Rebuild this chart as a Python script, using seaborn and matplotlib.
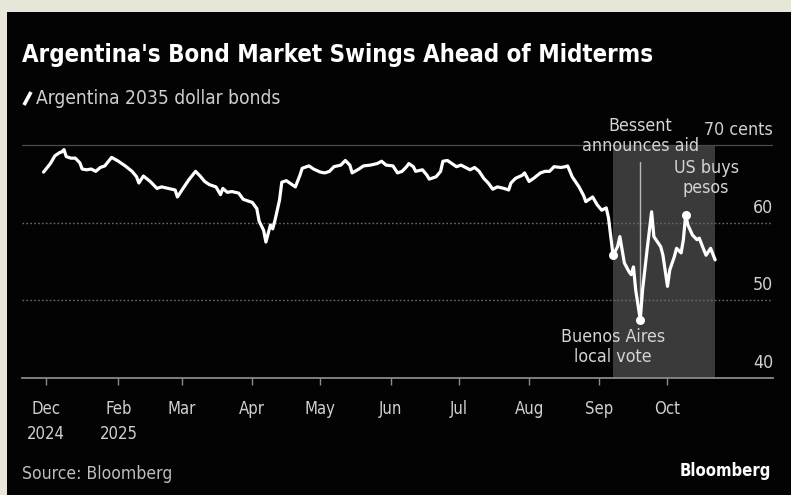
import matplotlib
matplotlib.use("Agg")
import matplotlib.pyplot as plt
import matplotlib.transforms as mtrans
import pandas as pd
import seaborn as sns
from matplotlib import font_manager
from matplotlib.lines import Line2D
from matplotlib.patches import Rectangle

# ---------------- data ----------------
dates = [
    "2024-12-30", "2025-01-02", "2025-01-04", "2025-01-06", "2025-01-07", "2025-01-08",
    "2025-01-09", "2025-01-11", "2025-01-13", "2025-01-15", "2025-01-16", "2025-01-18",
    "2025-01-20", "2025-01-22", "2025-01-24", "2025-01-26", "2025-01-29", "2025-02-01",
    "2025-02-04", "2025-02-07", "2025-02-09", "2025-02-10", "2025-02-12", "2025-02-15",
    "2025-02-18", "2025-02-20", "2025-02-23", "2025-02-26", "2025-02-27", "2025-03-01",
    "2025-03-04", "2025-03-07", "2025-03-09", "2025-03-11", "2025-03-13", "2025-03-16",
    "2025-03-18", "2025-03-19", "2025-03-21", "2025-03-23", "2025-03-26", "2025-03-28",
    "2025-03-30", "2025-04-01", "2025-04-03", "2025-04-04", "2025-04-06", "2025-04-07",
    "2025-04-09", "2025-04-10", "2025-04-11", "2025-04-13", "2025-04-14", "2025-04-16",
    "2025-04-18", "2025-04-20", "2025-04-22", "2025-04-23", "2025-04-26", "2025-04-28",
    "2025-05-01", "2025-05-03", "2025-05-05", "2025-05-07", "2025-05-10", "2025-05-12",
    "2025-05-14", "2025-05-15", "2025-05-18", "2025-05-20", "2025-05-23", "2025-05-26",
    "2025-05-28", "2025-05-30", "2025-06-02", "2025-06-04", "2025-06-06", "2025-06-08",
    "2025-06-09", "2025-06-11", "2025-06-12", "2025-06-15", "2025-06-17", "2025-06-18",
    "2025-06-21", "2025-06-23", "2025-06-24", "2025-06-26", "2025-06-28", "2025-06-30",
    "2025-07-02", "2025-07-04", "2025-07-06", "2025-07-08", "2025-07-10", "2025-07-12",
    "2025-07-14", "2025-07-16", "2025-07-18", "2025-07-21", "2025-07-23", "2025-07-24",
    "2025-07-26", "2025-07-29", "2025-07-30", "2025-08-01", "2025-08-03", "2025-08-06",
    "2025-08-08", "2025-08-10", "2025-08-12", "2025-08-15", "2025-08-17", "2025-08-18",
    "2025-08-20", "2025-08-23", "2025-08-25", "2025-08-26", "2025-08-29", "2025-08-31",
    "2025-09-02", "2025-09-04", "2025-09-05", "2025-09-06", "2025-09-07", "2025-09-09",
    "2025-09-10", "2025-09-11", "2025-09-12", "2025-09-14", "2025-09-15", "2025-09-16",
    "2025-09-17", "2025-09-19", "2025-09-20", "2025-09-22", "2025-09-24", "2025-09-25",
    "2025-09-28", "2025-09-29", "2025-10-01", "2025-10-02", "2025-10-04", "2025-10-05",
    "2025-10-07", "2025-10-08", "2025-10-09", "2025-10-10", "2025-10-12", "2025-10-14",
    "2025-10-15", "2025-10-17", "2025-10-18", "2025-10-20", "2025-10-22",
]
bond_price = [
    66.5, 67.6, 68.6, 69.0, 69.1, 69.4,
    68.5, 68.3, 68.3, 67.7, 66.9, 66.8,
    66.9, 66.6, 67.1, 67.3, 68.4, 67.9,
    67.3, 66.6, 65.9, 65.1, 66.0, 65.3,
    64.4, 64.6, 64.4, 64.2, 63.3, 64.2,
    65.5, 66.6, 66.0, 65.3, 64.9, 64.6,
    63.6, 64.4, 63.9, 64.0, 63.8, 63.0,
    62.8, 62.6, 61.8, 60.2, 59.0, 57.5,
    59.7, 59.2, 60.3, 62.9, 65.2, 65.4,
    65.0, 64.6, 66.1, 67.0, 67.3, 66.9,
    66.5, 66.4, 66.6, 67.2, 67.4, 68.0,
    67.4, 66.4, 66.9, 67.3, 67.4, 67.6,
    67.9, 67.4, 67.3, 66.4, 66.6, 67.2,
    67.6, 67.2, 66.6, 66.8, 66.1, 65.6,
    65.9, 66.6, 67.9, 68.0, 67.6, 67.2,
    67.4, 67.1, 66.8, 67.1, 66.6, 65.7,
    65.1, 64.3, 64.6, 64.4, 64.2, 65.1,
    65.7, 66.1, 66.4, 65.3, 65.7, 66.4,
    66.6, 66.6, 67.2, 67.1, 67.2, 67.3,
    65.9, 64.6, 63.5, 62.7, 63.3, 62.3,
    61.6, 61.9, 60.6, 58.2, 55.8, 56.9,
    58.2, 56.5, 54.8, 53.7, 53.3, 54.3,
    51.3, 47.5, 51.3, 56.5, 61.4, 58.2,
    56.9, 55.8, 51.8, 53.9, 55.6, 56.7,
    56.1, 57.8, 61.0, 59.7, 58.4, 57.8,
    58.0, 56.5, 55.8, 56.7, 55.2,
]

event_dates = ["2025-09-07", "2025-09-19", "2025-10-09"]
event_values = [55.8, 47.5, 61.0]
event_labels = ["Buenos Aires\nlocal vote", "Bessent\nannounces aid", "US buys\npesos"]
event_label_dates = ["2025-09-07", "2025-09-19", "2025-10-18"]
event_label_values = [44.0, 71.2, 65.7]

shade_start, shade_end = "2025-09-07", "2025-10-22"
bessent_line_top = 67.8

tick_dates = ["2024-12-31", "2025-02-01", "2025-03-01", "2025-04-01", "2025-05-01",
              "2025-06-01", "2025-07-01", "2025-08-01", "2025-09-01", "2025-10-01"]
tick_labels = ["Dec\n2024", "Feb\n2025", "Mar", "Apr", "May", "Jun", "Jul", "Aug", "Sep", "Oct"]
y_levels = [40, 50, 60, 70]
y_labels = ["40", "50", "60", "70 cents"]

title = "Argentina's Bond Market Swings Ahead of Midterms"
legend_label = "Argentina 2035 dollar bonds"
source = "Source: Bloomberg"
brand = "Bloomberg"

# ---------------- fonts ----------------
sns.set_style("dark")
entries = font_manager.fontManager.ttflist
has_cond = any(f.name == "DejaVu Sans" and f.stretch == "condensed" for f in entries)
has_narrow = any(f.name == "Liberation Sans Narrow" for f in entries)
if has_cond:
    FK = dict(family="DejaVu Sans", fontstretch="condensed")
elif has_narrow:
    FK = dict(family="Liberation Sans Narrow")
else:
    FK = dict(family="DejaVu Sans")
plt.rcParams["font.family"] = [FK["family"], "DejaVu Sans"]
STRETCH = {k: v for k, v in FK.items() if k != "family"}

W, H = 791, 495
fig = plt.figure(figsize=(W / 100, H / 100), dpi=100)
fig.patch.set_facecolor("#e8e5d9")


def fx(x):
    return x / W


def fy(y):
    return 1 - y / H


fig.add_artist(Rectangle((fx(7), 0), 1, fy(12), transform=fig.transFigure,
                         facecolor="#030303", edgecolor="none", zorder=0))

ax_top_px, ax_bot_px = 129.4, 378
ax = fig.add_axes([fx(22), fy(ax_bot_px), fx(773) - fx(22), (ax_bot_px - ax_top_px) / H])
ax.set_facecolor("none")

df = pd.DataFrame({"date": pd.to_datetime(dates), "price": bond_price})
ev = pd.DataFrame({"date": pd.to_datetime(event_dates), "price": event_values})

# shading
ax.fill_between(pd.to_datetime([shade_start, shade_end]), 40, 70,
                color="#3a3a3a", linewidth=0, zorder=1)
# grid
ax.axhline(70, color="#4a4a4a", lw=0.9, zorder=1.5)
for lv in (50, 60):
    ax.axhline(lv, color="#6a6a6a", lw=1.0, ls=(0, (1.2, 1.6)), zorder=1.5)
# bessent vertical line
ax.plot(pd.to_datetime([event_dates[1], event_dates[1]]), [event_values[1], bessent_line_top],
        color="#b8b8b8", lw=1.0, zorder=2)

sns.lineplot(data=df, x="date", y="price", color="white", lw=2.3, ax=ax, zorder=3)
sns.scatterplot(data=ev, x="date", y="price", color="white", s=42, edgecolor="white",
                linewidth=0, ax=ax, zorder=4)

ax.set_xlim(pd.Timestamp("2024-12-20 12:00"), pd.Timestamp("2025-11-16 12:00"))
ax.set_ylim(40, 72)
ax.set_xlabel("")
ax.set_ylabel("")
ax.grid(False)
for s in ("top", "left", "right"):
    ax.spines[s].set_visible(False)
ax.spines["bottom"].set_color("#8a8a8a")
ax.spines["bottom"].set_linewidth(1.3)
ax.set_yticks([])
ax.set_xticks(pd.to_datetime(tick_dates))
ax.set_xticklabels(tick_labels, color="#d0d0d0", fontsize=12, linespacing=1.5,
                   ha="center", **STRETCH)
ax.tick_params(axis="x", bottom=True, direction="out", colors="#8a8a8a", length=5,
               width=1, pad=11, labelcolor="#d0d0d0")

# right-hand value labels (above grid lines)
trans = mtrans.blended_transform_factory(ax.transAxes, ax.transData)
off = mtrans.ScaledTranslation(0, 6 / 100, fig.dpi_scale_trans)
for lv, lab in zip(y_levels, y_labels):
    ax.text(1.0, lv, lab, transform=trans + off, ha="right", va="bottom",
            color="#d0d0d0", fontsize=12.8, **FK)

# event annotations
for d, v, lab in zip(event_label_dates, event_label_values, event_labels):
    ax.text(pd.Timestamp(d), v, lab, ha="center", va="center", color="#d4d4d4",
            fontsize=12.8, linespacing=1.15, zorder=5, **FK)

# title / legend / footer
fig.text(fx(22), fy(55), title, color="white", fontsize=17.2, fontweight="bold",
         va="center", ha="left", **FK)
fig.add_artist(Line2D([fx(24), fx(31)], [fy(105), fy(92)], color="white", lw=2.6,
                      solid_capstyle="butt"))
fig.text(fx(36), fy(98), legend_label, color="#cfcfcf", fontsize=13.8, va="center",
         ha="left", **FK)
fig.text(fx(22), fy(474), source, color="#bdbdbd", fontsize=12.6, va="center", ha="left", **FK)
fig.text(fx(771), fy(471), brand, color="white", fontsize=12, fontweight="bold",
         va="center", ha="right", **FK)

fig.savefig("out.png", dpi=100, facecolor=fig.get_facecolor())
